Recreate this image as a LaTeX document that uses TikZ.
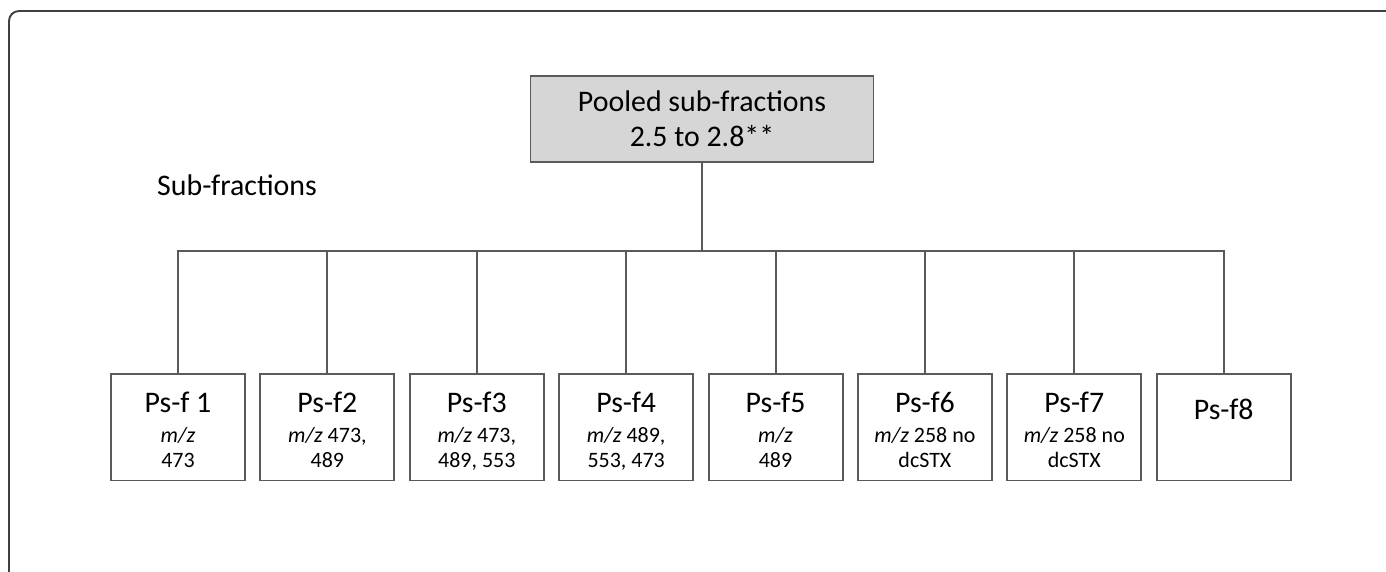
\documentclass[tikz,border=0pt]{standalone}
\usepackage{fontspec}
\setmainfont{Carlito}
\usetikzlibrary{positioning}
\definecolor{linegray}{HTML}{5A5A5A}
\definecolor{poolfill}{HTML}{D6D6D6}
\tikzset{subbox/.style={rectangle,draw=linegray,line width=1.1pt,align=center,inner sep=0pt,minimum width=26.8mm,minimum height=21.3mm,font=\fontsize{12.5}{14.5}\selectfont},
  poolbox/.style={rectangle,draw=linegray,fill=poolfill,line width=1.1pt,align=center,minimum width=68.6mm,minimum height=17.2mm,font=\fontsize{17}{20}\selectfont},
  link/.style={draw=linegray,line width=1.1pt},
  frame/.style={draw=black!75,line width=1.1pt,rounded corners=2mm}}
\newcommand{\psname}[1]{{\fontsize{17}{17}\selectfont\rule{0pt}{18.7pt}#1\strut}\\[0.75pt]}

\begin{document}
\begin{tikzpicture}[node distance=8mm and 2.69mm]
\useasboundingbox (0,0) rectangle (27.72,-11.42);
\draw[frame] (0.18,-11.8) -- (0.18,-0.22) -- (28.2,-0.22);
\node[poolbox] (pool) at (14.04,-2.38) {Pooled sub-fractions\\ 2.5 to 2.8**};
\node[anchor=base west,font=\fontsize{17}{20}\selectfont] (lbl) at (3.02,-3.90) {Sub-fractions};
\node[subbox, anchor=north] (f1) at (3.56,-7.46) {\psname{Ps-f 1}\textit{m/z}\strut\\ 473\strut};
\node[subbox, right=of f1] (f2) {\psname{Ps-f2}\textit{m/z} 473,\strut\\ 489\strut};
\node[subbox, right=of f2] (f3) {\psname{Ps-f3}\textit{m/z} 473,\strut\\ 489, 553\strut};
\node[subbox, right=of f3] (f4) {\psname{Ps-f4}\textit{m/z} 489,\strut\\ 553, 473\strut};
\node[subbox, right=of f4] (f5) {\psname{Ps-f5}\textit{m/z}\strut\\ 489\strut};
\node[subbox, right=of f5] (f6) {\psname{Ps-f6}\textit{m/z} 258 no\strut\\ dcSTX\strut};
\node[subbox, right=of f6] (f7) {\psname{Ps-f7}\textit{m/z} 258 no\strut\\ dcSTX\strut};
\node[subbox, right=of f7] (f8) {\psname{Ps-f8}\strut\\[-8pt] \strut};
\coordinate (bus) at (0,-5.02);
\draw[link] (pool.south) -- (pool.south |- bus);
\draw[link] (f1.north) |- (f8.north |- bus) -- (f8.north);
\draw[link] (f2.north) -- (f2.north |- bus);
\draw[link] (f3.north) -- (f3.north |- bus);
\draw[link] (f4.north) -- (f4.north |- bus);
\draw[link] (f5.north) -- (f5.north |- bus);
\draw[link] (f6.north) -- (f6.north |- bus);
\draw[link] (f7.north) -- (f7.north |- bus);
\end{tikzpicture}
\end{document}
